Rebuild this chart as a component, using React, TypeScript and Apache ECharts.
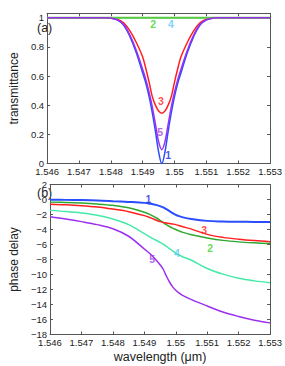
import React, { useEffect, useRef } from 'react';
import * as echarts from 'echarts';

// ---------- data ----------
const tX = [1.546, 1.547, 1.5478, 1.548, 1.5482, 1.5484, 1.5486, 1.5488, 1.549, 1.5491, 1.5492, 1.5493, 1.5494, 1.5495, 1.5496, 1.5497, 1.5498, 1.5499, 1.55, 1.5501, 1.5502, 1.5504, 1.5506, 1.5508, 1.551, 1.5512, 1.5514, 1.552, 1.553];
const t1 = [1, 1, 1, 0.997, 0.985, 0.95, 0.87, 0.76, 0.62, 0.55, 0.46, 0.35, 0.22, 0.08, 0.0, 0.08, 0.22, 0.35, 0.46, 0.55, 0.62, 0.76, 0.87, 0.95, 0.985, 0.997, 1, 1, 1];
const t2 = [1, 1, 1, 1, 1, 1, 1, 1, 1, 1, 1, 1, 1, 1, 1, 1, 1, 1, 1, 1, 1, 1, 1, 1, 1, 1, 1, 1, 1];
const t3 = [1, 1, 1, 0.998, 0.99, 0.965, 0.91, 0.83, 0.73, 0.65, 0.56, 0.46, 0.4, 0.36, 0.345, 0.36, 0.4, 0.46, 0.56, 0.65, 0.73, 0.83, 0.91, 0.965, 0.99, 0.998, 1, 1, 1];
const t4 = [1, 1, 1, 1, 1, 1, 1, 1, 1, 1, 1, 1, 1, 1, 1, 1, 1, 1, 1, 1, 1, 1, 1, 1, 1, 1, 1, 1, 1];
const t5 = [1, 1, 1, 0.997, 0.986, 0.955, 0.88, 0.775, 0.645, 0.575, 0.49, 0.39, 0.27, 0.15, 0.095, 0.15, 0.27, 0.39, 0.49, 0.575, 0.645, 0.775, 0.88, 0.955, 0.986, 0.997, 1, 1, 1];

const pX = [1.546, 1.5465, 1.547, 1.5475, 1.548, 1.5485, 1.549, 1.5492, 1.5494, 1.5495, 1.5496, 1.5497, 1.5498, 1.5499, 1.55, 1.5501, 1.5502, 1.5505, 1.551, 1.5515, 1.552, 1.5525, 1.553];
const p1 = [-0.03, -0.05, -0.08, -0.13, -0.22, -0.32, -0.45, -0.58, -0.75, -0.88, -1.05, -1.28, -1.55, -1.82, -2.05, -2.22, -2.35, -2.6, -2.85, -2.93, -2.97, -2.99, -3.0];
const p2 = [-0.35, -0.4, -0.48, -0.6, -0.78, -1.1, -1.7, -2.05, -2.5, -2.78, -3.1, -3.35, -3.6, -3.82, -4.0, -4.18, -4.35, -4.7, -5.12, -5.45, -5.65, -5.78, -5.88];
const p3 = [-0.62, -0.7, -0.82, -1.0, -1.28, -1.62, -2.15, -2.45, -2.8, -2.95, -3.05, -3.12, -3.2, -3.27, -3.35, -3.46, -3.6, -3.95, -4.65, -5.05, -5.3, -5.48, -5.62];
const p4 = [-1.45, -1.6, -1.8, -2.1, -2.6, -3.35, -4.55, -5.05, -5.5, -5.72, -5.95, -6.25, -6.55, -6.85, -7.15, -7.4, -7.6, -8.1, -9.2, -9.95, -10.5, -10.85, -11.1];
const p5 = [-2.3, -2.6, -2.95, -3.35, -3.9, -4.9, -6.6, -7.3, -8.2, -8.7, -9.3, -10.2, -11.0, -11.65, -12.1, -12.45, -12.75, -13.35, -14.2, -15.0, -15.6, -16.1, -16.45];

// curve annotations: [x, y, text]
const tLabels: [number, number, string][] = [
  [1.54933, 0.959, '2'],
  [1.54989, 0.959, '4'],
  [1.54957, 0.43, '3'],
  [1.54955, 0.213, '5'],
  [1.5498, 0.056, '1'],
];
const pLabels: [number, number, string][] = [
  [1.54913, 0.04, '1'],
  [1.5509, -4.13, '3'],
  [1.55109, -6.4, '2'],
  [1.55004, -7.07, '4'],
  [1.54925, -7.92, '5'],
];

const xMin = 1.546, xMax = 1.553, xStep = 0.001;
const tMin = 0, tMax = 1.03, tStep = 0.2;
const pMin = -18, pMax = 2, pStep = 2;

// ---------- styles ----------
const FONT = "'Liberation Sans', Arial, Helvetica, sans-serif";
const AXIS = '#555555';
const TXT = '#222222';
const C = {
  1: '#2a4dff',
  2: '#2ea82e',
  3: '#ff1f1f',
  4: '#45eaa8',
  5: '#9b30ee',
};
const LC: Record<string, string> = {
  '1': '#1a2ad8',
  '2': '#3ad42a',
  '3': '#ff2020',
  '4': '#5cc8f5',
  '5': '#a040e0',
};

const zip = (xs: number[], ys: number[]) => xs.map((x, i) => [x, ys[i]]);

function axisBase(extra: any) {
  return {
    type: 'value',
    splitLine: { show: false },
    axisLine: { show: true, onZero: false, lineStyle: { color: AXIS, width: 1 } },
    axisTick: { show: true, inside: true, length: 3, lineStyle: { color: AXIS } },
    axisLabel: { color: TXT, fontSize: 9.5, fontFamily: FONT },
    ...extra,
  };
}

function xAxes(gridIndex: number, withName: boolean) {
  const common = { gridIndex, min: xMin, max: xMax, interval: xStep };
  const main: any = axisBase({
    ...common,
    position: 'bottom',
    axisLabel: {
      color: TXT, fontSize: 9.5, fontFamily: FONT, margin: 3,
      formatter: (v: number) => String(+v.toFixed(3)),
    },
  });
  if (withName) {
    main.name = 'wavelength (\u03bcm)';
    main.nameLocation = 'middle';
    main.nameGap = 16;
    main.nameTextStyle = { color: TXT, fontSize: 12.5, fontFamily: FONT };
  }
  return [main, axisBase({ ...common, position: 'top', axisLabel: { show: false } })];
}

function yAxes(gridIndex: number, min: number, max: number, interval: number, name: string, fmt: (v: number) => string) {
  const common = { gridIndex, min, max, interval };
  return [
    axisBase({
      ...common,
      position: 'left',
      axisLabel: { color: TXT, fontSize: 9.5, fontFamily: FONT, margin: 3, formatter: fmt, showMaxLabel: gridIndex === 1 },
      name,
      nameLocation: 'middle',
      nameGap: 18,
      nameTextStyle: { color: TXT, fontSize: 12, fontFamily: FONT },
    }),
    axisBase({ ...common, position: 'right', axisLabel: { show: false } }),
  ];
}

function line(data: number[][], color: string, width: number, xi: number, yi: number, z = 2) {
  return {
    type: 'line',
    data,
    xAxisIndex: xi,
    yAxisIndex: yi,
    showSymbol: false,
    symbol: 'none',
    smooth: 0.35,
    clip: true,
    z,
    lineStyle: { color, width },
    emphasis: { disabled: true },
  };
}

function labelSeries(labels: [number, number, string][], xi: number, yi: number) {
  return {
    type: 'scatter',
    xAxisIndex: xi,
    yAxisIndex: yi,
    symbolSize: 1,
    itemStyle: { color: 'rgba(0,0,0,0)' },
    z: 10,
    data: labels.map(([x, y, t]) => ({
      value: [x, y],
      label: {
        show: true,
        position: 'inside',
        formatter: t,
        color: LC[t],
        fontSize: 10.5,
        fontWeight: 'bold',
        fontFamily: FONT,
      },
    })),
  };
}

const option: any = {
  animation: false,
  backgroundColor: '#ffffff',
  grid: [
    { left: 33, top: 13.3, width: 238.5, height: 150.2 },
    { left: 33, top: 184.5, width: 238.5, height: 150 },
  ],
  xAxis: [...xAxes(0, false), ...xAxes(1, true)],
  yAxis: [
    ...yAxes(0, tMin, tMax, tStep, 'transmittance', (v: number) => String(+v.toFixed(1))),
    ...yAxes(1, pMin, pMax, pStep, 'phase delay', (v: number) => String(v).replace('-', '\u2212')),
  ],
  graphic: [
    { type: 'text', x: 37, y: 27.5, style: { text: '(a)', fontSize: 12.5, fontFamily: FONT, fill: TXT, textAlign: 'left', textVerticalAlign: 'middle' } },
    { type: 'text', x: 37, y: 192.5, style: { text: '(b)', fontSize: 12.5, fontFamily: FONT, fill: TXT, textAlign: 'left', textVerticalAlign: 'middle' } },
  ],
  series: [
    line(zip(tX, t1), C[1], 1.5, 0, 0, 2),
    line(zip(tX, t4), C[4], 1.5, 0, 0, 3),
    line(zip(tX, t3), C[3], 1.5, 0, 0, 4),
    line(zip(tX, t2), '#5cc845', 2, 0, 0, 5),
    line(zip(tX, t5), C[5], 1.5, 0, 0, 6),
    labelSeries(tLabels, 0, 0),

    line(zip(pX, p1), C[1], 2, 2, 2, 2),
    line(zip(pX, p2), C[2], 1.5, 2, 2, 3),
    line(zip(pX, p3), C[3], 1.5, 2, 2, 4),
    line(zip(pX, p4), C[4], 1.5, 2, 2, 5),
    line(zip(pX, p5), C[5], 1.5, 2, 2, 6),
    labelSeries(pLabels, 2, 2),
  ],
};

export default function App() {
  const ref = useRef<HTMLDivElement>(null);
  useEffect(() => {
    document.body.style.margin = '0';
    const chart = echarts.init(ref.current as HTMLDivElement, null, { renderer: 'svg' });
    chart.setOption(option);
    return () => chart.dispose();
  }, []);
  return <div ref={ref} style={{ width: 285, height: 366 }} />;
}
